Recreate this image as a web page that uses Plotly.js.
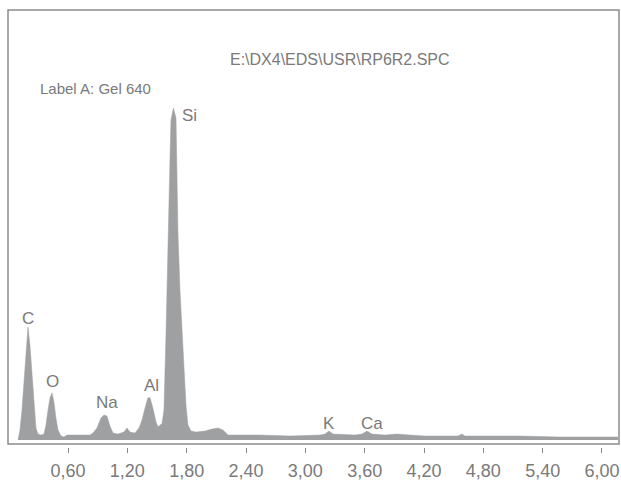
<!DOCTYPE html>
<html>
<head>
<meta charset="utf-8">
<script src="https://cdn.plot.ly/plotly-3.0.1.min.js"></script>
<style>html,body{margin:0;padding:0;background:#fff;}#chart{width:621px;height:488px;}</style>
</head>
<body>
<div id="chart"></div>
<script>
// Spectrum: energy (keV) and counts (arbitrary units, Si peak = 1000)
const energy = [0.094,0.114,0.134,0.155,0.175,0.195,0.215,0.236,0.256,0.276,0.296,0.327,
  0.357,0.377,0.397,0.418,0.438,0.458,0.478,0.499,0.529,0.559,0.590,0.822,
  0.852,0.893,0.933,0.963,0.994,1.024,1.055,1.105,1.166,1.196,1.226,1.277,
  1.318,1.348,1.378,1.408,1.429,1.459,1.490,1.510,1.530,
  1.550,1.570,1.581,1.591,1.601,1.611,1.621,1.631,1.641,1.666,1.692,1.702,1.712,1.732,1.753,1.773,1.793,1.813,
  1.844,1.894,1.985,2.056,2.117,2.167,2.218,2.541,2.845,3.148,
  3.199,3.239,3.280,3.502,3.573,3.623,3.674,3.805,3.927,4.058,4.210,
  4.544,4.584,4.614,4.665,5.171,5.575,6.161];
const counts = [0,30,90,181,271,340,286,196,105,36,18,15,
  18,45,90,127,142,114,66,30,12,9,15,15,
  21,36,66,75,72,42,21,18,24,36,24,21,
  36,60,96,127,127,96,54,39,45,
  48,90,181,322,452,623,753,843,964,1000,970,822,623,452,322,196,105,45,
  27,24,27,33,36,30,15,15,12,15,
  18,27,18,15,18,27,18,15,18,15,12,
  12,18,12,12,12,9,9];

const elements = ["C","O","Na","Al","Si","K","Ca"];
const elemX = [0.195,0.448,0.994,1.449,1.828,3.239,3.674];
const elemY = [367,175,114,163,976,51,51];

const tickVals = [0.6,1.2,1.8,2.4,3.0,3.6,4.2,4.8,5.4,6.0];
const tickText = ["0,60","1,20","1,80","2,40","3,00","3,60","4,20","4,80","5,40","6,00"];

const titleText = "E:\\DX4\\EDS\\USR\\RP6R2.SPC";
const labelText = "Label A: Gel 640";

const FONT = "Liberation Sans, Arial, sans-serif";
const TXT = "#7a7a7a";

const trace = {
  x: energy, y: counts, type: "scatter", mode: "lines",
  fill: "tozeroy", fillcolor: "#9ea0a2",
  line: {color: "#9ea0a2", width: 0.5},
  hoverinfo: "skip"
};

const annotations = elements.map((e, i) => ({
  x: elemX[i], y: elemY[i], xref: "x", yref: "y", text: e, showarrow: false,
  xanchor: "center", yanchor: "middle",
  font: {family: FONT, size: 17, color: TXT}
}));
annotations.push({
  x: 0.049, y: 0.8215, xref: "paper", yref: "paper", text: labelText, showarrow: false,
  xanchor: "left", yanchor: "middle",
  font: {family: FONT, size: 15, color: TXT}
});

const layout = {
  width: 621, height: 488,
  margin: {l: 8, r: 2, t: 10, b: 41},
  paper_bgcolor: "#fff", plot_bgcolor: "#fff",
  showlegend: false,
  title: {text: titleText, x: 0.543, xanchor: "center", xref: "paper",
          y: 1 - 59/488, yanchor: "middle", yref: "container",
          font: {family: FONT, size: 16, color: TXT}},
  xaxis: {range: [-0.007, 6.172], tickvals: tickVals, ticktext: tickText,
          ticks: "outside", ticklen: 5, tickcolor: "#888", tickwidth: 1,
          ticklabelstandoff: 2,
          showgrid: false, zeroline: false, showline: false,
          tickfont: {family: FONT, size: 18, color: TXT}, fixedrange: true},
  yaxis: {range: [-21, 1295], showticklabels: false, showgrid: false,
          zeroline: false, showline: false, ticks: "", fixedrange: true},
  shapes: [{type: "rect", xref: "paper", yref: "paper", x0: 0, x1: 1,
            y0: 3/437, y1: 1, line: {color: "#8c8c8c", width: 1.5}}],
  annotations: annotations
};

Plotly.newPlot("chart", [trace], layout, {displayModeBar: false, staticPlot: true});
</script>
</body>
</html>
